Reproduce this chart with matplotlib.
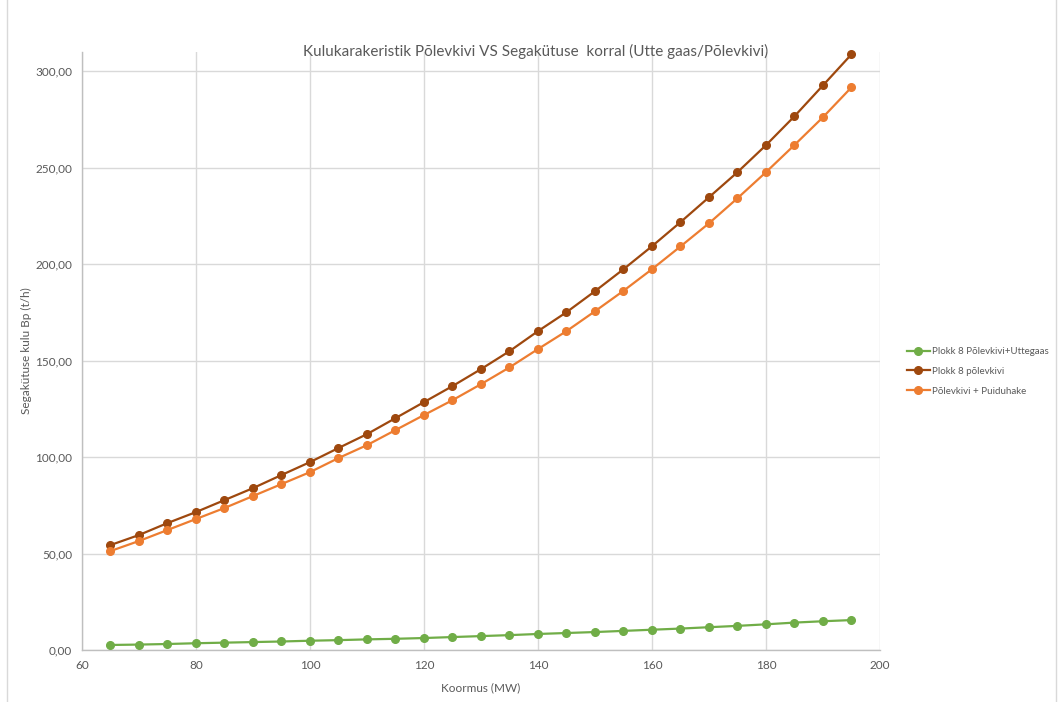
import matplotlib
matplotlib.use("Agg")
import matplotlib.pyplot as plt
from matplotlib.ticker import FuncFormatter, MultipleLocator
from matplotlib.patches import Rectangle

plt.rcParams['font.family'] = ['Lato', 'DejaVu Sans']

# Load (MW) and fuel consumption (t/h) per case
koormus = [65, 70, 75, 80, 85, 90, 95, 100, 105, 110, 115, 120, 125,
           130, 135, 140, 145, 150, 155, 160, 165, 170, 175, 180, 185, 190, 195]
uttegaas = [2.6, 2.8, 3.1, 3.5, 3.8, 4.1, 4.4, 4.8, 5.1, 5.5, 5.8, 6.2, 6.7,
            7.2, 7.7, 8.3, 8.8, 9.3, 9.9, 10.5, 11.1, 11.8, 12.5, 13.3, 14.2, 14.9, 15.5]
polevkivi = [54.4, 59.6, 65.8, 71.5, 77.7, 83.9, 90.7, 97.4, 104.7, 111.9, 120.2, 128.5, 136.8,
             145.6, 154.9, 165.3, 175.1, 186.0, 197.4, 209.3, 221.8, 234.7, 247.7, 261.7,
             276.7, 292.7, 308.8]
puiduhake = [51.3, 56.5, 62.2, 67.9, 73.6, 79.8, 86.0, 92.2, 99.5, 106.2, 114.0, 121.8, 129.5,
             137.8, 146.5, 156.0, 165.3, 175.6, 186.2, 197.4, 209.2, 221.2, 234.2, 247.7,
             261.8, 276.2, 291.7]

series = [
    ("Plokk 8 Põlevkivi+Uttegaas", uttegaas, "#70AD47"),
    ("Plokk 8 põlevkivi", polevkivi, "#9E480E"),
    ("Põlevkivi + Puiduhake", puiduhake, "#ED7D31"),
]

text_gray = "#595959"
grid_gray = "#D9D9D9"

fig = plt.figure(figsize=(10.62, 7.02), dpi=100)
# chart-area frame
fig.patches.append(Rectangle((0.0068, -0.01), 0.9875, 1.02, transform=fig.transFigure,
                             fill=False, edgecolor="#D9D9D9", linewidth=1.0))
ax = fig.add_axes([0.0772, 0.0741, 0.7514, 0.8518])

for label, vals, col in series:
    ax.plot(koormus, vals, color=col, linewidth=1.6, marker='o', markersize=5.5,
            label=label, zorder=3, clip_on=False)

ax.set_xlim(60, 200)
ax.set_ylim(0, 310)
ax.xaxis.set_major_locator(MultipleLocator(20))
ax.yaxis.set_major_locator(MultipleLocator(50))
ax.yaxis.set_major_formatter(FuncFormatter(lambda v, p: f"{v:.2f}".replace('.', ',')))

ax.grid(True, color=grid_gray, linewidth=1.0)
ax.set_axisbelow(True)
for s in ['top', 'right']:
    ax.spines[s].set_visible(False)
for s in ['left', 'bottom']:
    ax.spines[s].set_color("#BFBFBF")
    ax.spines[s].set_linewidth(1.0)
ax.tick_params(length=0, colors=text_gray, labelsize=8.5, pad=7)

ax.set_xlabel("Koormus (MW)", color=text_gray, fontsize=8.5, labelpad=8)
ax.set_ylabel("Segakütuse kulu Bp (t/h)", color=text_gray, fontsize=8.5, labelpad=2)

fig.text(0.504, 1 - 51 / 702,
         "Kulukarakeristik Põlevkivi VS Segakütuse  korral (Utte gaas/Põlevkivi)",
         color=text_gray, fontsize=11, ha='center', va='center')

leg = fig.legend(loc='center left', bbox_to_anchor=(0.846, 0.471), frameon=False,
                 fontsize=7, handlelength=2.3, labelspacing=1.1, handletextpad=0.3)
for t in leg.get_texts():
    t.set_color(text_gray)

fig.savefig("out.png", dpi=100, facecolor="white")
